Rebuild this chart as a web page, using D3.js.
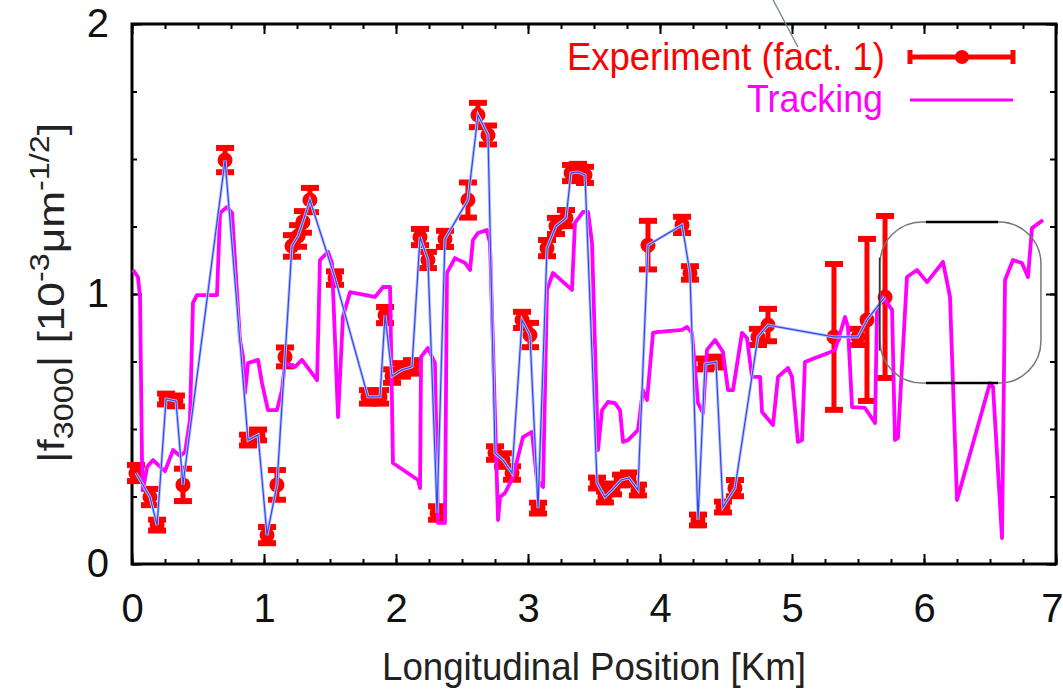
<!DOCTYPE html>
<html>
<head>
<meta charset="utf-8">
<script src="https://cdn.jsdelivr.net/npm/d3@7"></script>
<style>
  body { margin: 0; background: #fff; }
  svg { display: block; font-family: "Liberation Sans", Arial, sans-serif; }
</style>
</head>
<body>
<div id="chart"></div>
<script>
  // experiment: position [km], |f3000|, error
  const expX = [0.03, 0.136, 0.19, 0.258, 0.333, 0.386, 0.705, 0.879, 0.955, 1.023, 1.098, 1.159, 1.212, 1.258, 1.295, 1.348,
    1.538, 1.788, 1.879, 1.917, 1.970, 2.045, 2.121, 2.182, 2.242, 2.311, 2.371, 2.545, 2.621, 2.697, 2.75, 2.811, 2.879,
    2.955, 3.015, 3.076, 3.144, 3.212, 3.288, 3.326, 3.379, 3.432, 3.523, 3.583, 3.644, 3.705, 3.765, 3.833, 3.909, 4.167,
    4.227, 4.288, 4.341, 4.424, 4.477, 4.568, 4.742, 4.818, 5.318, 5.5, 5.568, 5.705];
  const expY = [0.337, 0.248, 0.144, 0.611, 0.604, 0.293, 1.496, 0.459, 0.478, 0.107, 0.293, 0.767, 1.178, 1.215, 1.267, 1.348,
    1.059, 0.619, 0.619, 0.922, 0.696, 0.719, 0.730, 1.211, 1.126, 0.189, 1.204, 1.348, 1.663, 1.589, 0.411, 0.385, 0.337,
    0.904, 0.848, 0.207, 1.170, 1.252, 1.281, 1.448, 1.452, 1.441, 0.300, 0.248, 0.278, 0.311, 0.319, 0.274, 1.181, 1.256,
    1.078, 0.163, 0.741, 0.748, 0.211, 0.281, 0.841, 0.885, 0.841, 0.841, 0.904, 0.989];
  const expErr = [0.03, 0.03, 0.02, 0.02, 0.02, 0.06, 0.045, 0.02, 0.02, 0.03, 0.055, 0.035, 0.04, 0.04, 0.04, 0.045,
    0.025, 0.025, 0.025, 0.03, 0.025, 0.025, 0.025, 0.03, 0.03, 0.025, 0.03, 0.065, 0.045, 0.035, 0.025, 0.025, 0.025,
    0.03, 0.045, 0.02, 0.03, 0.03, 0.03, 0.03, 0.03, 0.03, 0.02, 0.02, 0.02, 0.02, 0.02, 0.02, 0.09, 0.03,
    0.025, 0.02, 0.02, 0.02, 0.02, 0.03, 0.03, 0.06, 0.27, 0.03, 0.30, 0.30];

  // tracking
  const trkX = [0.008, 0.045, 0.061, 0.076, 0.083, 0.114, 0.159, 0.25, 0.311, 0.364, 0.402, 0.439, 0.462, 0.492, 0.644, 0.667,
    0.720, 0.758, 0.818, 0.841, 0.856, 0.879, 0.955, 0.985, 1.030, 1.098, 1.136, 1.159, 1.235, 1.288, 1.402, 1.424, 1.485,
    1.515, 1.561, 1.598, 1.652, 1.841, 1.902, 1.955, 1.977, 2.167, 2.182, 2.19, 2.242, 2.295, 2.318, 2.371, 2.386, 2.447,
    2.523, 2.561, 2.583, 2.621, 2.689, 2.712, 2.773, 2.788, 2.826, 2.886, 2.962, 3.030, 3.068, 3.114, 3.144, 3.189, 3.333,
    3.356, 3.417, 3.455, 3.485, 3.530, 3.561, 3.606, 3.659, 3.697, 3.720, 3.758, 3.833, 3.871, 3.902, 3.947, 3.977, 4.167,
    4.205, 4.242, 4.288, 4.326, 4.356, 4.417, 4.477, 4.515, 4.553, 4.621, 4.659, 4.697, 4.758, 4.773, 4.856, 4.894, 4.970,
    5.000, 5.045, 5.076, 5.098, 5.174, 5.273, 5.326, 5.402, 5.424, 5.455, 5.553, 5.629, 5.644, 5.689, 5.758, 5.780, 5.803,
    5.871, 5.947, 6.023, 6.144, 6.197, 6.250, 6.500, 6.523, 6.591, 6.614, 6.674, 6.742, 6.788, 6.818, 6.902];
  const trkY = [1.089, 1.063, 0.989, 0.374, 0.274, 0.359, 0.385, 0.344, 0.422, 0.400, 0.415, 0.533, 0.967, 0.996, 0.996, 1.300,
    1.322, 1.300, 0.830, 0.767, 0.633, 0.744, 0.756, 0.670, 0.570, 0.570, 0.644, 0.744, 0.730, 0.756, 0.681, 1.126, 1.156,
    1.115, 0.544, 0.915, 1.007, 0.989, 1.026, 1.026, 0.374, 0.311, 0.281, 0.767, 0.800, 0.744, 0.152, 0.152, 1.078, 1.133,
    1.115, 1.089, 1.200, 1.226, 1.237, 1.189, 0.163, 0.248, 0.263, 0.322, 0.470, 0.489, 0.311, 0.285, 1.015, 1.078, 1.015,
    1.263, 1.304, 1.304, 1.189, 0.422, 0.570, 0.600, 0.596, 0.570, 0.452, 0.459, 0.496, 0.644, 0.607, 0.856, 0.859, 0.867,
    0.878, 0.856, 0.596, 0.559, 0.793, 0.830, 0.785, 0.644, 0.644, 0.856, 0.837, 0.693, 0.693, 0.563, 0.515, 0.693, 0.726,
    0.693, 0.452, 0.459, 0.748, 0.763, 0.781, 0.793, 0.915, 0.878, 0.581, 0.578, 0.522, 0.941, 0.989, 0.941, 0.459, 0.467,
    1.063, 1.089, 1.044, 1.119, 0.989, 0.237, 0.670, 0.656, 0.096, 1.052, 1.126, 1.115, 1.063, 1.244, 1.274];

  const xTicks = [0, 1, 2, 3, 4, 5, 6, 7];
  const yTicks = [0, 1, 2];

  const W = 1063, H = 694;
  const svg = d3.select("#chart").append("svg")
    .attr("width", W).attr("height", H);

  const x = d3.scaleLinear().domain([0, 7]).range([132, 1056]);
  const y = d3.scaleLinear().domain([0, 2]).range([564, 24]);
  const xMinor = d3.range(0, 7.001, 0.25);
  const yMinor = d3.range(0, 2.001, 0.25);

  const exp = expX.map((d, i) => ({ x: d, y: expY[i], e: expErr[i] }));
  const trk = trkX.map((d, i) => ({ x: d, y: trkY[i] }));

  // axes: minor + major ticks, pointing inward on all four sides
  function axisGroup(axis, tf) {
    const g = svg.append("g").attr("transform", tf).call(axis);
    g.select(".domain").remove();
    g.selectAll(".tick line").attr("stroke", "#000").attr("stroke-width", 2);
    return g;
  }
  axisGroup(d3.axisBottom(x).tickValues(xMinor).tickSize(-5).tickFormat(""), `translate(0,${y(0)})`);
  axisGroup(d3.axisTop(x).tickValues(xMinor).tickSize(-5).tickFormat(""), `translate(0,${y(2)})`);
  axisGroup(d3.axisLeft(y).tickValues(yMinor).tickSize(-5).tickFormat(""), `translate(${x(0)},0)`);
  axisGroup(d3.axisRight(y).tickValues(yMinor).tickSize(-6).tickFormat(""), `translate(${x(7)},0)`);

  const xb = axisGroup(d3.axisBottom(x).tickValues(xTicks).tickSize(-10).tickPadding(30).tickFormat(d3.format("d")),
    `translate(0,${y(0)})`);
  axisGroup(d3.axisTop(x).tickValues(xTicks).tickSize(-10).tickFormat(""), `translate(0,${y(2)})`);
  const yl = axisGroup(d3.axisLeft(y).tickValues(yTicks).tickSize(-10).tickPadding(23).tickFormat(d3.format("d")),
    `translate(${x(0)},0)`);
  axisGroup(d3.axisRight(y).tickValues(yTicks).tickSize(-10).tickFormat(""), `translate(${x(7)},0)`);
  [xb, yl].forEach(g => g.selectAll("text")
    .attr("fill", "#111").style("font-size", "40px").style("font-family", "'Liberation Sans', Arial, sans-serif"));
  // the "7" sits against the page edge, as in the reference
  xb.selectAll(".tick").filter(d => d === 7).select("text").attr("text-anchor", "end").attr("x", 7);

  // frame
  svg.append("rect")
    .attr("x", x(0)).attr("y", y(2))
    .attr("width", x(7) - x(0)).attr("height", y(0) - y(2))
    .attr("fill", "none").attr("stroke", "#000").attr("stroke-width", 3);

  // experiment error bars + points
  const red = "#ff0000";
  const eg = svg.append("g");
  eg.selectAll("line.bar").data(exp).join("line")
    .attr("x1", d => x(d.x)).attr("x2", d => x(d.x))
    .attr("y1", d => y(d.y - d.e)).attr("y2", d => y(d.y + d.e))
    .attr("stroke", red).attr("stroke-width", 5);
  eg.selectAll("line.capt").data(exp).join("line")
    .attr("x1", d => x(d.x) - 9).attr("x2", d => x(d.x) + 9)
    .attr("y1", d => y(d.y + d.e)).attr("y2", d => y(d.y + d.e))
    .attr("stroke", red).attr("stroke-width", 6);
  eg.selectAll("line.capb").data(exp).join("line")
    .attr("x1", d => x(d.x) - 9).attr("x2", d => x(d.x) + 9)
    .attr("y1", d => y(d.y - d.e)).attr("y2", d => y(d.y - d.e))
    .attr("stroke", red).attr("stroke-width", 6);
  eg.selectAll("circle").data(exp).join("circle")
    .attr("cx", d => x(d.x)).attr("cy", d => y(d.y)).attr("r", 7.5)
    .attr("fill", red);

  // tracking
  svg.append("path").datum(trk)
    .attr("d", d3.line().x(d => x(d.x)).y(d => y(d.y)))
    .attr("fill", "none").attr("stroke", "#ff00ff").attr("stroke-width", 3.8)
    .attr("stroke-linejoin", "round");

  // thin blue line through the experimental points
  const expLine = d3.line().x(d => x(d.x)).y(d => y(d.y));
  svg.append("path").datum(exp).attr("d", expLine)
    .attr("fill", "none").attr("stroke", "#b4c2ff").attr("stroke-width", 3);
  svg.append("path").datum(exp).attr("d", expLine)
    .attr("fill", "none").attr("stroke", "#3346f0").attr("stroke-width", 1.2);

  // annotation: rounded box + pointer line
  const bx0 = 5.667, bx1 = 6.886, by0 = 1.267, by1 = 0.670;
  svg.append("rect")
    .attr("x", x(bx0)).attr("y", y(by0))
    .attr("width", x(bx1) - x(bx0)).attr("height", y(by1) - y(by0))
    .attr("rx", 42).attr("ry", 42)
    .attr("fill", "none").attr("stroke", "#777").attr("stroke-width", 1.5);
  [by0, by1].forEach(v => svg.append("line")
    .attr("x1", x(6.015)).attr("x2", x(6.561)).attr("y1", y(v)).attr("y2", y(v))
    .attr("stroke", "#000").attr("stroke-width", 2.5));
  svg.append("line")
    .attr("x1", x(bx0) - 0.5).attr("x2", x(bx0) - 0.5).attr("y1", y(1.135)).attr("y2", y(0.79))
    .attr("stroke", "#333").attr("stroke-width", 1.5);
  svg.append("line")
    .attr("x1", x(4.856)).attr("y1", y(2.09)).attr("x2", x(5.045)).attr("y2", y(1.915))
    .attr("stroke", "#6a8a8a").attr("stroke-width", 1.3);

  // legend
  const lg = svg.append("g");
  lg.append("text").attr("x", 885).attr("y", 70).attr("text-anchor", "end")
    .attr("fill", red).style("font-size", "39px")
    .attr("textLength", 318).attr("lengthAdjust", "spacingAndGlyphs")
    .text("Experiment (fact. 1)");
  lg.append("line").attr("x1", 910).attr("x2", 1013).attr("y1", 57).attr("y2", 57)
    .attr("stroke", red).attr("stroke-width", 5);
  [910, 1013].forEach(v => lg.append("line").attr("x1", v).attr("x2", v).attr("y1", 50).attr("y2", 64)
    .attr("stroke", red).attr("stroke-width", 5));
  lg.append("circle").attr("cx", 962).attr("cy", 57).attr("r", 7).attr("fill", red);

  lg.append("text").attr("x", 883).attr("y", 112).attr("text-anchor", "end")
    .attr("fill", "#ff00ff").style("font-size", "39px")
    .attr("textLength", 136).attr("lengthAdjust", "spacingAndGlyphs")
    .text("Tracking");
  lg.append("line").attr("x1", 910).attr("x2", 1013).attr("y1", 100).attr("y2", 100)
    .attr("stroke", "#ff00ff").attr("stroke-width", 3);

  // axis titles
  svg.append("text").attr("x", 594).attr("y", 680).attr("text-anchor", "middle")
    .attr("fill", "#222").style("font-size", "39px")
    .attr("textLength", 424).attr("lengthAdjust", "spacingAndGlyphs")
    .text("Longitudinal Position [Km]");

  const yt = svg.append("text")
    .attr("transform", "translate(64,293) rotate(-90)")
    .attr("text-anchor", "middle").attr("fill", "#222").style("font-size", "37px")
    .attr("textLength", 340).attr("lengthAdjust", "spacingAndGlyphs");
  yt.append("tspan").text("|f");
  yt.append("tspan").attr("dy", 9).style("font-size", "27px").text("3000");
  yt.append("tspan").attr("dy", -9).text("| [10");
  yt.append("tspan").attr("dy", -15).style("font-size", "27px").text("-3");
  yt.append("tspan").attr("dy", 15).text("μm");
  yt.append("tspan").attr("dy", -15).style("font-size", "27px").text("-1/2");
  yt.append("tspan").attr("dy", 15).text("]");
</script>
</body>
</html>
